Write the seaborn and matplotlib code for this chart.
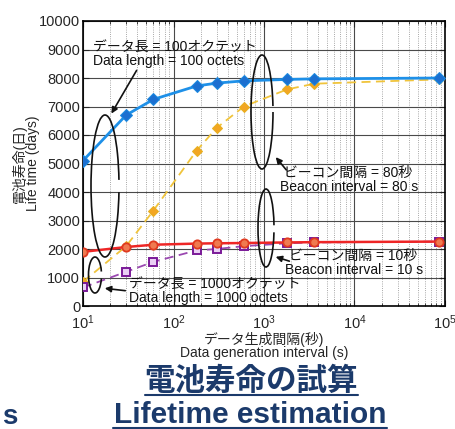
import pandas as pd
import seaborn as sns
import matplotlib
matplotlib.use("Agg")
import matplotlib.pyplot as plt
from matplotlib.patches import Arc

sns.set_style("ticks")
plt.rcParams["font.family"] = ["Liberation Sans", "Noto Sans CJK JP", "DejaVu Sans"]
plt.rcParams["mathtext.default"] = "regular"

# data generation interval (s)
interval = [10, 30, 60, 180, 300, 600, 1800, 3600, 86400]
# life time (days)
len100_b80 = [5100, 6700, 7250, 7720, 7820, 7900, 7950, 7970, 8000]
len1000_b80 = [850, 2100, 3350, 5450, 6250, 7000, 7600, 7800, 7950]
len100_b10 = [1900, 2070, 2150, 2190, 2200, 2210, 2230, 2240, 2260]
len1000_b10 = [650, 1200, 1550, 1950, 2000, 2100, 2200, 2230, 2260]

W, H = 456, 429
fig = plt.figure(figsize=(W / 100, H / 100), dpi=100)
ax = fig.add_axes([83 / W, 1 - 306 / H, 362 / W, 285 / H])

def P(x, y):
    return (x / W, 1 - y / H)

ax.set_xscale("log")
ax.grid(True, which="major", color="#4a4a4a", lw=0.8, ls="-")
ax.grid(True, which="minor", axis="x", color="#8a8a8a", lw=0.6, ls=":")
ax.set_axisbelow(True)

sns.lineplot(x=interval, y=len1000_b80, ax=ax, color="#f0c43c", lw=1.3,
             linestyle=(0, (5, 3)), marker="D", markersize=5.5,
             markerfacecolor="#f2a623", markeredgecolor="#e8b020", zorder=3)
sns.lineplot(x=interval, y=len1000_b10, ax=ax, color="#9a48b0", lw=1.3,
             linestyle=(0, (5, 3)), marker="s", markersize=5.5,
             markerfacecolor="#ead0f4", markeredgecolor="#7a1a98",
             markeredgewidth=1.4, zorder=3)
sns.lineplot(x=interval, y=len100_b10, ax=ax, color="#ee2626", lw=1.8,
             marker="o", markersize=6, markerfacecolor="#f07a50",
             markeredgecolor="#e03a20", markeredgewidth=1.3, zorder=4)
sns.lineplot(x=interval, y=len100_b80, ax=ax, color="#1e90e8", lw=2.0,
             marker="D", markersize=6, markerfacecolor="#1c6fd0",
             markeredgecolor="#1a8ae0", zorder=5)

ax.set_xlim(10, 1e5)
ax.set_ylim(0, 10000)
ax.set_yticks(range(0, 10001, 1000))
ax.tick_params(which="both", direction="in", top=True, right=True,
               labelsize=10.5)
ax.tick_params(axis="y", pad=2)
ax.tick_params(axis="x", pad=5)
ax.tick_params(which="major", length=4)
ax.tick_params(which="minor", length=2.5)
for s in ax.spines.values():
    s.set_linewidth(1.2)
    s.set_color("black")

ax.set_xlabel("データ生成間隔(秒)\nData generation interval (s)",
              fontsize=10, linespacing=0.92, labelpad=0)
ax.set_ylabel("電池寿命(日)\nLife time (days)", fontsize=10,
              linespacing=0.95, labelpad=-1)

# annotations
tk = dict(fontsize=10, color="#111111", ha="left", va="center", linespacing=0.95)
fig.text(*P(93, 54), "データ長 = 100オクテット\nData length = 100 octets", **tk)
fig.text(*P(129, 291), "データ長 = 1000オクテット\nData length = 1000 octets", **tk)
fig.text(*P(280, 180), " ビーコン間隔 = 80秒\nBeacon interval = 80 s", **tk)
fig.text(*P(285, 263), " ビーコン間隔 = 10秒\nBeacon interval = 10 s", **tk)

arcs = [
    ((105, 186), 28, 142, 25, 335),
    ((95, 275), 13, 36, 30, 330),
    ((262, 112), 22, 114, 30, 360),
    ((266, 228), 16, 78, 20, 330),
]
for (cx, cy), w, h, t1, t2 in arcs:
    fig.add_artist(Arc(P(cx, cy), w / W, h / H, theta1=t1, theta2=t2,
                       transform=fig.transFigure, color="#111111", lw=1.2))

arrows = [((138, 68), (110, 116)), ((128, 291), (102, 288)),
          ((288, 172), (274, 155)), ((292, 262), (273, 256))]
for start, end in arrows:
    fig.add_artist(plt.Annotation("", xy=P(*end), xycoords="figure fraction",
                                  xytext=P(*start), textcoords="figure fraction",
                                  arrowprops=dict(arrowstyle="-|>", color="#111111",
                                                  lw=1.2, mutation_scale=9)))

# slide titles below the chart
tc = "#1b3a6b"
fig.text(*P(251, 390), "電池寿命の試算", fontsize=22, fontweight="bold",
         color=tc, ha="center", va="baseline")
fig.text(*P(250, 423), "Lifetime estimation", fontsize=21.5,
         fontweight="bold", color=tc, ha="center", va="baseline")
fig.add_artist(plt.Line2D([145 / W, 358 / W], [1 - 395 / H] * 2,
                          transform=fig.transFigure, color=tc, lw=1.5))
fig.add_artist(plt.Line2D([113 / W, 387 / W], [1 - 427.5 / H] * 2,
                          transform=fig.transFigure, color=tc, lw=1.5))
fig.text(*P(2, 424), "s", fontsize=20, fontweight="bold", color=tc,
         ha="left", va="baseline")

fig.savefig("out.png", dpi=100)
